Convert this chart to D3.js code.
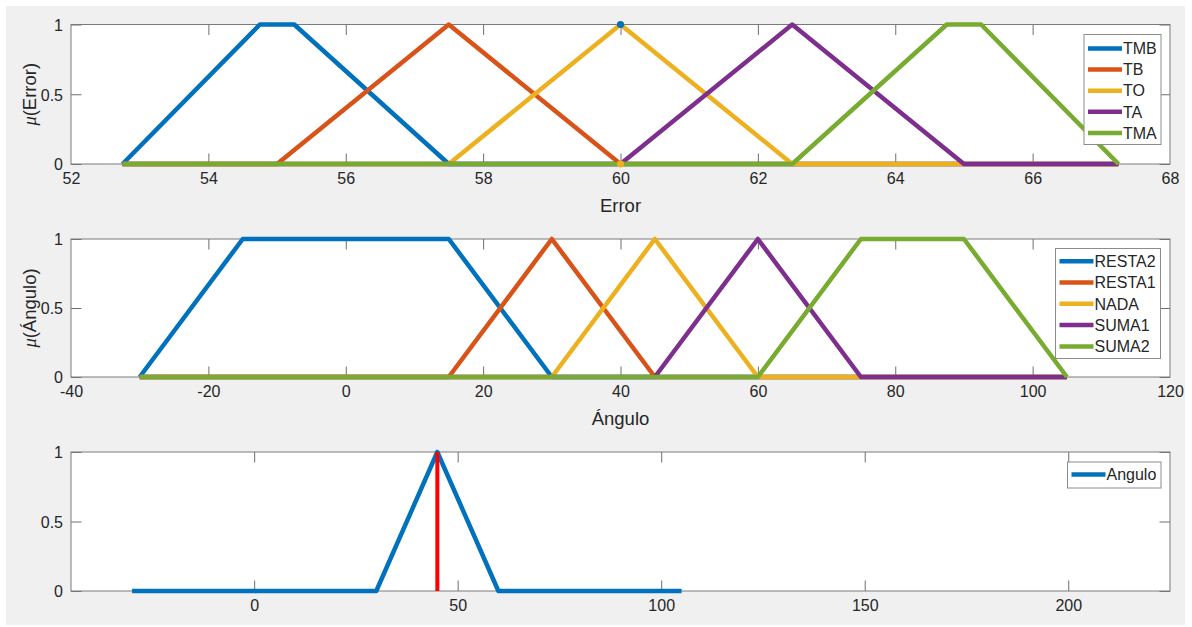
<!DOCTYPE html>
<html>
<head>
<meta charset="utf-8">
<script src="https://cdn.jsdelivr.net/npm/d3@7"></script>
<style>
  html, body { margin: 0; padding: 0; background: #ffffff; }
  svg { display: block; }
  text { font-family: "Liberation Sans", Arial, Helvetica, sans-serif; fill: #262626; }
</style>
</head>
<body>
<svg id="chart" width="1192" height="627"></svg>
<script>
// ---- Error fuzzy set (universe 52.75 .. 67.25) ----
const errorUniverse = [52.75, 67.25];
const errorNames = ["TMB", "TB", "TO", "TA", "TMA"];
const errorParams = [
  [52.75, 54.75, 55.25, 57.5],   // trapmf
  [55, 57.5, 60],                // trimf
  [57.5, 60, 62.5],
  [60, 62.5, 65],
  [62.5, 64.75, 65.25, 67.25]    // trapmf
];
const errorTicks = [52, 54, 56, 58, 60, 62, 64, 66, 68];
const errorMarks = [ { x: 60, mu: 1, set: 0 }, { x: 60, mu: 0, set: 2 } ];

// ---- Ángulo fuzzy set (universe -30 .. 105) ----
const angleUniverse = [-30, 105];
const angleNames = ["RESTA2", "RESTA1", "NADA", "SUMA1", "SUMA2"];
const angleParams = [
  [-30, -15, 15, 30],
  [15, 30, 45],
  [30, 45, 60],
  [45, 60, 75],
  [60, 75, 90, 105]
];
const angleTicks = [-40, -20, 0, 20, 40, 60, 80, 100, 120];

// ---- Output: implied "Angulo" set and crisp value ----
const outX = [-30, 30, 45, 60, 105];
const outMu = [0, 0, 1, 0, 0];
const outName = "Angulo";
const crispValue = 45;
const outTicks = [0, 50, 100, 150, 200];

const muTicks = [0, 0.5, 1];
const colors = ["#0072BD", "#D95319", "#EDB120", "#7E2F8E", "#77AC30"];

const svg = d3.select("#chart");
svg.append("rect").attr("x", 6).attr("y", 6).attr("width", 1179).attr("height", 619).attr("fill", "#f0f0f0");

const L = 71, R = 1170;
const TICK = 10.5;

// membership polyline over the whole universe
function mfPoints(p, u) {
  const pts = [[u[0], 0]];
  if (p.length === 3) pts.push([p[0], 0], [p[1], 1], [p[2], 0]);
  else pts.push([p[0], 0], [p[1], 1], [p[2], 1], [p[3], 0]);
  pts.push([u[1], 0]);
  return pts;
}

function makeAxes(top, bottom, xDomain, xTicks, opts) {
  const x = d3.scaleLinear().domain(xDomain).range([L, R]);
  const y = d3.scaleLinear().domain([0, 1]).range([bottom, top]);
  const g = svg.append("g");
  g.append("rect").attr("x", L).attr("y", top).attr("width", R - L).attr("height", bottom - top)
    .attr("fill", "#ffffff");

  const fmt = d => String(d);
  const ax = g.append("g").attr("transform", `translate(0,${bottom})`)
    .call(d3.axisBottom(x).tickValues(xTicks).tickFormat(fmt).tickSizeInner(-TICK).tickSizeOuter(0).tickPadding(9));
  const axT = g.append("g").attr("transform", `translate(0,${top})`)
    .call(d3.axisTop(x).tickValues(xTicks).tickFormat("").tickSizeInner(-TICK).tickSizeOuter(0));
  const ay = g.append("g").attr("transform", `translate(${L},0)`)
    .call(d3.axisLeft(y).tickValues(muTicks).tickFormat(fmt).tickSizeInner(-TICK).tickSizeOuter(0).tickPadding(8));
  const ayR = g.append("g").attr("transform", `translate(${R},0)`)
    .call(d3.axisRight(y).tickValues(muTicks).tickFormat("").tickSizeInner(-TICK).tickSizeOuter(0));
  [ax, axT, ay, ayR].forEach(a => {
    a.select(".domain").remove();
    a.selectAll("line").attr("stroke", "#6e6e6e").attr("stroke-width", 1);
    a.selectAll("text").style("font-family", "Liberation Sans, Arial, sans-serif")
      .style("font-size", "16px").attr("fill", "#262626");
  });
  // keep ticks that fall on the box edges out
  [ax, axT].forEach(a => a.selectAll(".tick line").filter(d => d <= xDomain[0] || d >= xDomain[1]).remove());
  ay.selectAll("text").attr("dy", "0.36em");

  g.append("rect").attr("x", L).attr("y", top).attr("width", R - L).attr("height", bottom - top)
    .attr("fill", "none").attr("stroke", "#7a7a7a").attr("stroke-width", 1);

  if (opts.xLabel) {
    g.append("text").attr("x", (L + R) / 2).attr("y", bottom + 48).attr("text-anchor", "middle")
      .style("font-size", "18.5px").text(opts.xLabel);
  }
  if (opts.yLabel) {
    const t = g.append("text").attr("transform", `translate(36,${(top + bottom) / 2}) rotate(-90)`)
      .attr("text-anchor", "middle").style("font-size", "18.5px");
    t.append("tspan").style("font-family", "Liberation Serif, Times New Roman, serif")
      .style("font-style", "italic").text("μ");
    t.append("tspan").text(opts.yLabel);
  }
  return { x, y, g };
}

function drawLegend(names, cols, box) {
  const g = svg.append("g");
  g.append("rect").attr("x", box.x).attr("y", box.y).attr("width", box.w).attr("height", box.h)
    .attr("fill", "#ffffff").attr("stroke", "#8c8c8c").attr("stroke-width", 1);
  names.forEach((n, i) => {
    const cy = box.y0 + i * box.dy;
    g.append("line").attr("x1", box.x + 4).attr("x2", box.x + 38).attr("y1", cy).attr("y2", cy)
      .attr("stroke", cols[i]).attr("stroke-width", 4.5);
    g.append("text").attr("x", box.x + 39).attr("y", cy).attr("dy", "0.36em")
      .style("font-size", "16px").text(n);
  });
}

const line = (sx, sy) => d3.line().x(d => sx(d[0])).y(d => sy(d[1]));

// ---- Panel 1: Error ----
{
  const { x, y, g } = makeAxes(24.5, 164, [52, 68], errorTicks, { xLabel: "Error", yLabel: "(Error)" });
  errorParams.forEach((p, i) => {
    g.append("path").datum(mfPoints(p, errorUniverse)).attr("d", line(x, y))
      .attr("fill", "none").attr("stroke", colors[i]).attr("stroke-width", 4.5)
      .attr("stroke-linejoin", "round");
  });
  errorMarks.forEach(m => {
    g.append("circle").attr("cx", x(m.x)).attr("cy", y(m.mu)).attr("r", 3.6).attr("fill", colors[m.set]);
  });
  drawLegend(errorNames, colors, { x: 1084, y: 34.5, w: 77, h: 110, y0: 48.5, dy: 21.1 });
}

// ---- Panel 2: Ángulo ----
{
  const { x, y, g } = makeAxes(239, 377, [-40, 120], angleTicks, { xLabel: "Ángulo", yLabel: "(Ángulo)" });
  angleParams.forEach((p, i) => {
    g.append("path").datum(mfPoints(p, angleUniverse)).attr("d", line(x, y))
      .attr("fill", "none").attr("stroke", colors[i]).attr("stroke-width", 4.5)
      .attr("stroke-linejoin", "round");
  });
  drawLegend(angleNames, colors, { x: 1055.5, y: 248.5, w: 105, h: 110, y0: 261.2, dy: 21.3 });
}

// ---- Panel 3: output ----
{
  const { x, y, g } = makeAxes(452, 591, [-45, 225], outTicks, {});
  g.append("path").datum(outX.map((v, i) => [v, outMu[i]])).attr("d", line(x, y))
    .attr("fill", "none").attr("stroke", colors[0]).attr("stroke-width", 4.5)
    .attr("stroke-linejoin", "round");
  g.append("line").attr("x1", x(crispValue)).attr("x2", x(crispValue)).attr("y1", y(0)).attr("y2", y(1))
    .attr("stroke", "#ff0000").attr("stroke-width", 4);
  drawLegend([outName], colors, { x: 1067.5, y: 462, w: 93.5, h: 26, y0: 474.5, dy: 0 });
}
</script>
</body>
</html>
